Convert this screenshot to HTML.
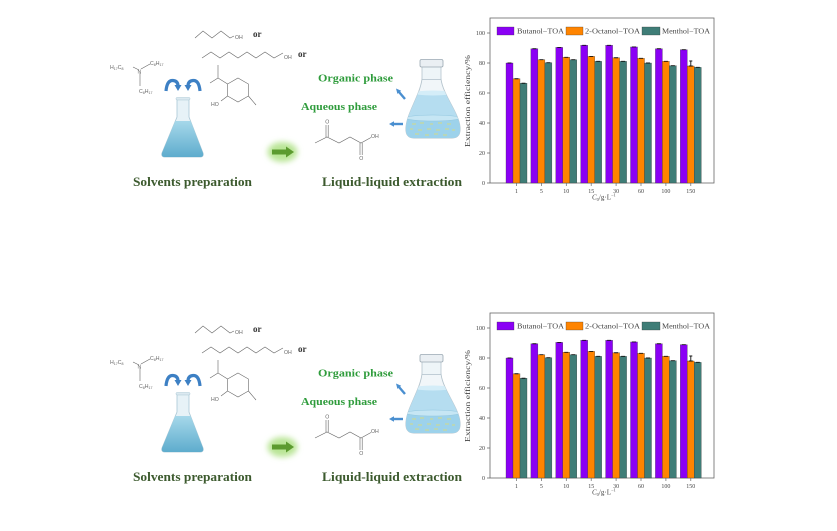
<!DOCTYPE html>
<html><head><meta charset="utf-8"><style>
html,body{margin:0;padding:0;background:#fff;}
svg{display:block;}
.t{font-family:"Liberation Serif",serif;}
.s{font-family:"Liberation Sans",sans-serif;}
</style></head><body>
<svg width="837" height="531" viewBox="0 0 837 531" xmlns="http://www.w3.org/2000/svg">
<defs>
<linearGradient id="liq" x1="0" y1="0" x2="0" y2="1"><stop offset="0" stop-color="#a6d8ea"/><stop offset="1" stop-color="#5eaccd"/></linearGradient>
<clipPath id="rb"><path d="M422,79 C420,95 407,113 406,127 Q405,138 414,138 L452,138 Q461,138 460,127 C459,113 443,95 441,79 Z"/></clipPath>
<filter id="bl" x="-50%" y="-50%" width="200%" height="200%"><feGaussianBlur stdDeviation="3"/></filter>
</defs>

<g id="top">
<rect x="490" y="18" width="224" height="165" fill="none" stroke="#666" stroke-width="0.8"/>
<g stroke="#333" stroke-width="0.3">
<rect x="506" y="63" width="7" height="120" fill="#8a00f5"/><rect x="513" y="78.75" width="7" height="104.25" fill="#ff8400"/><rect x="520" y="83.25" width="7" height="99.75" fill="#3f7d77"/>
<rect x="530.9" y="48.75" width="7" height="134.25" fill="#8a00f5"/><rect x="537.9" y="59.7" width="7" height="123.3" fill="#ff8400"/><rect x="544.9" y="62.7" width="7" height="120.3" fill="#3f7d77"/>
<rect x="555.8" y="47.4" width="7" height="135.6" fill="#8a00f5"/><rect x="562.8" y="57.3" width="7" height="125.7" fill="#ff8400"/><rect x="569.8" y="59.7" width="7" height="123.3" fill="#3f7d77"/>
<rect x="580.7" y="45.3" width="7" height="137.7" fill="#8a00f5"/><rect x="587.7" y="56.4" width="7" height="126.6" fill="#ff8400"/><rect x="594.7" y="61.35" width="7" height="121.65" fill="#3f7d77"/>
<rect x="605.6" y="45.3" width="7" height="137.7" fill="#8a00f5"/><rect x="612.6" y="57.75" width="7" height="125.25" fill="#ff8400"/><rect x="619.6" y="61.35" width="7" height="121.65" fill="#3f7d77"/>
<rect x="630.5" y="46.95" width="7" height="136.05" fill="#8a00f5"/><rect x="637.5" y="58.35" width="7" height="124.65" fill="#ff8400"/><rect x="644.5" y="63" width="7" height="120" fill="#3f7d77"/>
<rect x="655.4" y="48.75" width="7" height="134.25" fill="#8a00f5"/><rect x="662.4" y="61.35" width="7" height="121.65" fill="#ff8400"/><rect x="669.4" y="65.7" width="7" height="117.3" fill="#3f7d77"/>
<rect x="680.3" y="49.65" width="7" height="133.35" fill="#8a00f5"/><rect x="687.3" y="66" width="7" height="117" fill="#ff8400"/><rect x="694.3" y="67.35" width="7" height="115.65" fill="#3f7d77"/>
</g>
<path d="M507.5,63H511.5M532.4,48.75H536.4M557.3,47.4H561.3M582.2,45.3H586.2M607.1,45.3H611.1M632,46.95H636M656.9,48.75H660.9M681.8,49.65H685.8M514.5,78.75H518.5M539.4,59.7H543.4M564.3,57.3H568.3M589.2,56.4H593.2M614.1,57.75H618.1M639,58.35H643M663.9,61.35H667.9M688.8,66H692.8M690.8,66V61M689.3,61H692.3M521.5,83.25H525.5M546.4,62.7H550.4M571.3,59.7H575.3M596.2,61.35H600.2M621.1,61.35H625.1M646,63H650M670.9,65.7H674.9M695.8,67.35H699.8" stroke="#111" stroke-width="0.9" fill="none"/>
<path d="M487,183H490M487,153H490M487,123H490M487,93H490M487,63H490M487,33H490M516.5,183V186M541.4,183V186M566.3,183V186M591.2,183V186M616.1,183V186M641,183V186M665.9,183V186M690.8,183V186" stroke="#666" stroke-width="0.7"/>
<g class="t" font-size="6" fill="#444" text-anchor="end">
<text x="485" y="185">0</text><text x="485" y="155">20</text><text x="485" y="125">40</text><text x="485" y="95">60</text><text x="485" y="65">80</text><text x="485" y="35">100</text>
</g>
<g class="t" font-size="6" fill="#444" text-anchor="middle">
<text x="516.5" y="193">1</text><text x="541.4" y="193">5</text><text x="566.3" y="193">10</text><text x="591.2" y="193">15</text><text x="616.1" y="193">30</text><text x="641" y="193">60</text><text x="665.9" y="193">100</text><text x="690.8" y="193">150</text>
</g>
<text class="t" font-size="7" fill="#444" x="592" y="199.5"><tspan font-style="italic">C</tspan><tspan font-size="4.5" dy="1.5">0</tspan><tspan dy="-1.5">/g·L</tspan><tspan font-size="4.5" dy="-3">−1</tspan></text>
<text class="t" font-size="7.5" fill="#444" text-anchor="middle" transform="translate(470,101) rotate(-90)" textLength="92" lengthAdjust="spacingAndGlyphs">Extraction efficiency/%</text>
<rect x="497" y="27" width="17" height="8" fill="#8a00f5" stroke="#333" stroke-width="0.3"/>
<text class="t" font-size="7" fill="#444" x="517" y="33.5" textLength="47" lengthAdjust="spacingAndGlyphs">Butanol−TOA</text>
<rect x="566" y="27" width="17" height="8" fill="#ff8400" stroke="#333" stroke-width="0.3"/>
<text class="t" font-size="7" fill="#444" x="585" y="33.5" textLength="55" lengthAdjust="spacingAndGlyphs">2-Octanol−TOA</text>
<rect x="642" y="27" width="18" height="8" fill="#3f7d77" stroke="#333" stroke-width="0.3"/>
<text class="t" font-size="7" fill="#444" x="662" y="33.5" textLength="48" lengthAdjust="spacingAndGlyphs">Menthol−TOA</text>

<text class="t" font-size="13" font-weight="bold" fill="#3c5a2e" x="133" y="186" textLength="119" lengthAdjust="spacingAndGlyphs">Solvents preparation</text>
<text class="t" font-size="13" font-weight="bold" fill="#3c5a2e" x="322" y="186" textLength="140" lengthAdjust="spacingAndGlyphs">Liquid-liquid  extraction</text>
<text class="t" font-size="10" font-weight="bold" fill="#2f9c3c" x="318" y="81.5" textLength="75" lengthAdjust="spacingAndGlyphs">Organic phase</text>
<text class="t" font-size="10" font-weight="bold" fill="#2f9c3c" x="301" y="110" textLength="76" lengthAdjust="spacingAndGlyphs">Aqueous phase</text>

<path d="M177,99 L189,99 L189,117 L203,153 Q204,157 200,157 L165,157 Q161,157 162,153 L177,117 Z" fill="#e7f2f7" stroke="#aac7d5" stroke-width="0.8"/>
<path d="M175.3,121 L190.6,121 L203,153 Q204,157 200,157 L165,157 Q161,157 162,153 Z" fill="url(#liq)"/>
<rect x="176" y="97.5" width="14" height="2.5" rx="1" fill="#dbe9f0" stroke="#aac7d5" stroke-width="0.5"/>
<path d="M166,91 Q167,80 173,80.5 Q178,81 178,86" fill="none" stroke="#3d80c4" stroke-width="3.2"/>
<polygon points="174.5,85 181.5,85 178,91" fill="#3d80c4"/>
<path d="M200,91 Q199,80 193,80.5 Q188,81 188,86" fill="none" stroke="#3d80c4" stroke-width="3.2"/>
<polygon points="184.5,85 191.5,85 188,91" fill="#3d80c4"/>

<g stroke="#666" stroke-width="0.6" fill="none">
<path d="M133,67 L139,70 M141,69 L150,64 M140,73 L140,86"/>
<path d="M195,38 L203,31 L212,38 L221,31 L230,38 L234,36"/>
<path d="M202,58 L211,52 L220,58 L229,52 L238,58 L247,52 L256,58 L265,52 L274,58 L283,53"/>
<path d="M238,78 L248.4,84 L248.4,96 L238,102 L227.6,96 L227.6,84 Z M227.6,84 L218,78 L218,65 M218,78 L210,83 M227.6,96 L221,101 M248.4,96 L256,105"/>
<path d="M315,143 L327,137 L339,143 L350,137 L361,143 L371,137.5 M326,137 V125 M328.2,137 V125 M360,143 V155 M362.2,143 V155"/>
</g>
<g class="s" font-size="5.2" fill="#666">
<text x="110" y="69">H<tspan font-size="3.6" dy="1">17</tspan><tspan dy="-1">C</tspan><tspan font-size="3.6" dy="1">8</tspan></text>
<text x="137.5" y="73.5">N</text>
<text x="150" y="65">C<tspan font-size="3.6" dy="1">8</tspan><tspan dy="-1">H</tspan><tspan font-size="3.6" dy="1">17</tspan></text>
<text x="139" y="93">C<tspan font-size="3.6" dy="1">8</tspan><tspan dy="-1">H</tspan><tspan font-size="3.6" dy="1">17</tspan></text>
<text x="235" y="39">OH</text>
<text x="284" y="59">OH</text>
<text x="211" y="106">HO</text>
<text x="325.3" y="123.5">O</text>
<text x="359.3" y="160">O</text>
<text x="371" y="138">OH</text>
</g>
<text class="t" font-size="9" font-weight="bold" fill="#333" x="253" y="37">or</text>
<text class="t" font-size="9" font-weight="bold" fill="#333" x="298" y="57">or</text>

<ellipse cx="282.5" cy="152" rx="15" ry="10" fill="#b9e596" filter="url(#bl)"/>
<rect x="272" y="149.5" width="15" height="5" fill="#5c9b2f"/>
<polygon points="286,146.5 294,152 286,157.5" fill="#5c9b2f"/>

<path d="M422,79 C420,95 407,113 406,127 Q405,138 414,138 L452,138 Q461,138 460,127 C459,113 443,95 441,79 Z" fill="#f1f6f9" stroke="#b5c4cd" stroke-width="0.9"/>
<g clip-path="url(#rb)">
<rect x="400" y="93" width="70" height="50" fill="#b5ddf0"/>
<ellipse cx="433" cy="93" rx="20" ry="2.5" fill="#d4edf8"/>
<rect x="400" y="118" width="70" height="25" fill="#9dd2eb"/>
<ellipse cx="433" cy="118" rx="27" ry="3" fill="#c6e6f4" stroke="#93c7e0" stroke-width="0.6"/>
<path d="M412,124h4M420,123h4M430,124h3M438,123h4M447,124h4M410,129h3M418,130h4M427,129h4M436,130h4M445,129h4M452,130h3M415,134h4M425,135h4M434,134h4M443,135h4" stroke="#e4de66" stroke-width="0.8"/>
</g>
<rect x="422" y="66.5" width="19" height="13" fill="#eef5f8" stroke="#b5c4cd" stroke-width="0.8"/>
<rect x="420" y="59.5" width="23" height="7.5" rx="1.5" fill="#eaeff3" stroke="#9aa8b2" stroke-width="0.8"/>

<line x1="405" y1="99" x2="399" y2="92" stroke="#4a8fd0" stroke-width="2.4"/>
<polygon points="396,88.5 401.2,90.7 397.4,93.9" fill="#4a8fd0"/>
<line x1="403" y1="124" x2="393" y2="124" stroke="#4a8fd0" stroke-width="2.4"/>
<polygon points="389,124 394,121.3 394,126.7" fill="#4a8fd0"/>
</g>

<g transform="translate(0,295)">
<rect x="490" y="18" width="224" height="165" fill="none" stroke="#666" stroke-width="0.8"/>
<g stroke="#333" stroke-width="0.3">
<rect x="506" y="63" width="7" height="120" fill="#8a00f5"/><rect x="513" y="78.75" width="7" height="104.25" fill="#ff8400"/><rect x="520" y="83.25" width="7" height="99.75" fill="#3f7d77"/>
<rect x="530.9" y="48.75" width="7" height="134.25" fill="#8a00f5"/><rect x="537.9" y="59.7" width="7" height="123.3" fill="#ff8400"/><rect x="544.9" y="62.7" width="7" height="120.3" fill="#3f7d77"/>
<rect x="555.8" y="47.4" width="7" height="135.6" fill="#8a00f5"/><rect x="562.8" y="57.3" width="7" height="125.7" fill="#ff8400"/><rect x="569.8" y="59.7" width="7" height="123.3" fill="#3f7d77"/>
<rect x="580.7" y="45.3" width="7" height="137.7" fill="#8a00f5"/><rect x="587.7" y="56.4" width="7" height="126.6" fill="#ff8400"/><rect x="594.7" y="61.35" width="7" height="121.65" fill="#3f7d77"/>
<rect x="605.6" y="45.3" width="7" height="137.7" fill="#8a00f5"/><rect x="612.6" y="57.75" width="7" height="125.25" fill="#ff8400"/><rect x="619.6" y="61.35" width="7" height="121.65" fill="#3f7d77"/>
<rect x="630.5" y="46.95" width="7" height="136.05" fill="#8a00f5"/><rect x="637.5" y="58.35" width="7" height="124.65" fill="#ff8400"/><rect x="644.5" y="63" width="7" height="120" fill="#3f7d77"/>
<rect x="655.4" y="48.75" width="7" height="134.25" fill="#8a00f5"/><rect x="662.4" y="61.35" width="7" height="121.65" fill="#ff8400"/><rect x="669.4" y="65.7" width="7" height="117.3" fill="#3f7d77"/>
<rect x="680.3" y="49.65" width="7" height="133.35" fill="#8a00f5"/><rect x="687.3" y="66" width="7" height="117" fill="#ff8400"/><rect x="694.3" y="67.35" width="7" height="115.65" fill="#3f7d77"/>
</g>
<path d="M507.5,63H511.5M532.4,48.75H536.4M557.3,47.4H561.3M582.2,45.3H586.2M607.1,45.3H611.1M632,46.95H636M656.9,48.75H660.9M681.8,49.65H685.8M514.5,78.75H518.5M539.4,59.7H543.4M564.3,57.3H568.3M589.2,56.4H593.2M614.1,57.75H618.1M639,58.35H643M663.9,61.35H667.9M688.8,66H692.8M690.8,66V61M689.3,61H692.3M521.5,83.25H525.5M546.4,62.7H550.4M571.3,59.7H575.3M596.2,61.35H600.2M621.1,61.35H625.1M646,63H650M670.9,65.7H674.9M695.8,67.35H699.8" stroke="#111" stroke-width="0.9" fill="none"/>
<path d="M487,183H490M487,153H490M487,123H490M487,93H490M487,63H490M487,33H490M516.5,183V186M541.4,183V186M566.3,183V186M591.2,183V186M616.1,183V186M641,183V186M665.9,183V186M690.8,183V186" stroke="#666" stroke-width="0.7"/>
<g class="t" font-size="6" fill="#444" text-anchor="end">
<text x="485" y="185">0</text><text x="485" y="155">20</text><text x="485" y="125">40</text><text x="485" y="95">60</text><text x="485" y="65">80</text><text x="485" y="35">100</text>
</g>
<g class="t" font-size="6" fill="#444" text-anchor="middle">
<text x="516.5" y="193">1</text><text x="541.4" y="193">5</text><text x="566.3" y="193">10</text><text x="591.2" y="193">15</text><text x="616.1" y="193">30</text><text x="641" y="193">60</text><text x="665.9" y="193">100</text><text x="690.8" y="193">150</text>
</g>
<text class="t" font-size="7" fill="#444" x="592" y="199.5"><tspan font-style="italic">C</tspan><tspan font-size="4.5" dy="1.5">0</tspan><tspan dy="-1.5">/g·L</tspan><tspan font-size="4.5" dy="-3">−1</tspan></text>
<text class="t" font-size="7.5" fill="#444" text-anchor="middle" transform="translate(470,101) rotate(-90)" textLength="92" lengthAdjust="spacingAndGlyphs">Extraction efficiency/%</text>
<rect x="497" y="27" width="17" height="8" fill="#8a00f5" stroke="#333" stroke-width="0.3"/>
<text class="t" font-size="7" fill="#444" x="517" y="33.5" textLength="47" lengthAdjust="spacingAndGlyphs">Butanol−TOA</text>
<rect x="566" y="27" width="17" height="8" fill="#ff8400" stroke="#333" stroke-width="0.3"/>
<text class="t" font-size="7" fill="#444" x="585" y="33.5" textLength="55" lengthAdjust="spacingAndGlyphs">2-Octanol−TOA</text>
<rect x="642" y="27" width="18" height="8" fill="#3f7d77" stroke="#333" stroke-width="0.3"/>
<text class="t" font-size="7" fill="#444" x="662" y="33.5" textLength="48" lengthAdjust="spacingAndGlyphs">Menthol−TOA</text>

<text class="t" font-size="13" font-weight="bold" fill="#3c5a2e" x="133" y="186" textLength="119" lengthAdjust="spacingAndGlyphs">Solvents preparation</text>
<text class="t" font-size="13" font-weight="bold" fill="#3c5a2e" x="322" y="186" textLength="140" lengthAdjust="spacingAndGlyphs">Liquid-liquid  extraction</text>
<text class="t" font-size="10" font-weight="bold" fill="#2f9c3c" x="318" y="81.5" textLength="75" lengthAdjust="spacingAndGlyphs">Organic phase</text>
<text class="t" font-size="10" font-weight="bold" fill="#2f9c3c" x="301" y="110" textLength="76" lengthAdjust="spacingAndGlyphs">Aqueous phase</text>

<path d="M177,99 L189,99 L189,117 L203,153 Q204,157 200,157 L165,157 Q161,157 162,153 L177,117 Z" fill="#e7f2f7" stroke="#aac7d5" stroke-width="0.8"/>
<path d="M175.3,121 L190.6,121 L203,153 Q204,157 200,157 L165,157 Q161,157 162,153 Z" fill="url(#liq)"/>
<rect x="176" y="97.5" width="14" height="2.5" rx="1" fill="#dbe9f0" stroke="#aac7d5" stroke-width="0.5"/>
<path d="M166,91 Q167,80 173,80.5 Q178,81 178,86" fill="none" stroke="#3d80c4" stroke-width="3.2"/>
<polygon points="174.5,85 181.5,85 178,91" fill="#3d80c4"/>
<path d="M200,91 Q199,80 193,80.5 Q188,81 188,86" fill="none" stroke="#3d80c4" stroke-width="3.2"/>
<polygon points="184.5,85 191.5,85 188,91" fill="#3d80c4"/>

<g stroke="#666" stroke-width="0.6" fill="none">
<path d="M133,67 L139,70 M141,69 L150,64 M140,73 L140,86"/>
<path d="M195,38 L203,31 L212,38 L221,31 L230,38 L234,36"/>
<path d="M202,58 L211,52 L220,58 L229,52 L238,58 L247,52 L256,58 L265,52 L274,58 L283,53"/>
<path d="M238,78 L248.4,84 L248.4,96 L238,102 L227.6,96 L227.6,84 Z M227.6,84 L218,78 L218,65 M218,78 L210,83 M227.6,96 L221,101 M248.4,96 L256,105"/>
<path d="M315,143 L327,137 L339,143 L350,137 L361,143 L371,137.5 M326,137 V125 M328.2,137 V125 M360,143 V155 M362.2,143 V155"/>
</g>
<g class="s" font-size="5.2" fill="#666">
<text x="110" y="69">H<tspan font-size="3.6" dy="1">17</tspan><tspan dy="-1">C</tspan><tspan font-size="3.6" dy="1">8</tspan></text>
<text x="137.5" y="73.5">N</text>
<text x="150" y="65">C<tspan font-size="3.6" dy="1">8</tspan><tspan dy="-1">H</tspan><tspan font-size="3.6" dy="1">17</tspan></text>
<text x="139" y="93">C<tspan font-size="3.6" dy="1">8</tspan><tspan dy="-1">H</tspan><tspan font-size="3.6" dy="1">17</tspan></text>
<text x="235" y="39">OH</text>
<text x="284" y="59">OH</text>
<text x="211" y="106">HO</text>
<text x="325.3" y="123.5">O</text>
<text x="359.3" y="160">O</text>
<text x="371" y="138">OH</text>
</g>
<text class="t" font-size="9" font-weight="bold" fill="#333" x="253" y="37">or</text>
<text class="t" font-size="9" font-weight="bold" fill="#333" x="298" y="57">or</text>

<ellipse cx="282.5" cy="152" rx="15" ry="10" fill="#b9e596" filter="url(#bl)"/>
<rect x="272" y="149.5" width="15" height="5" fill="#5c9b2f"/>
<polygon points="286,146.5 294,152 286,157.5" fill="#5c9b2f"/>

<path d="M422,79 C420,95 407,113 406,127 Q405,138 414,138 L452,138 Q461,138 460,127 C459,113 443,95 441,79 Z" fill="#f1f6f9" stroke="#b5c4cd" stroke-width="0.9"/>
<g clip-path="url(#rb)">
<rect x="400" y="93" width="70" height="50" fill="#b5ddf0"/>
<ellipse cx="433" cy="93" rx="20" ry="2.5" fill="#d4edf8"/>
<rect x="400" y="118" width="70" height="25" fill="#9dd2eb"/>
<ellipse cx="433" cy="118" rx="27" ry="3" fill="#c6e6f4" stroke="#93c7e0" stroke-width="0.6"/>
<path d="M412,124h4M420,123h4M430,124h3M438,123h4M447,124h4M410,129h3M418,130h4M427,129h4M436,130h4M445,129h4M452,130h3M415,134h4M425,135h4M434,134h4M443,135h4" stroke="#e4de66" stroke-width="0.8"/>
</g>
<rect x="422" y="66.5" width="19" height="13" fill="#eef5f8" stroke="#b5c4cd" stroke-width="0.8"/>
<rect x="420" y="59.5" width="23" height="7.5" rx="1.5" fill="#eaeff3" stroke="#9aa8b2" stroke-width="0.8"/>

<line x1="405" y1="99" x2="399" y2="92" stroke="#4a8fd0" stroke-width="2.4"/>
<polygon points="396,88.5 401.2,90.7 397.4,93.9" fill="#4a8fd0"/>
<line x1="403" y1="124" x2="393" y2="124" stroke="#4a8fd0" stroke-width="2.4"/>
<polygon points="389,124 394,121.3 394,126.7" fill="#4a8fd0"/>
</g>
</svg>
</body></html>
